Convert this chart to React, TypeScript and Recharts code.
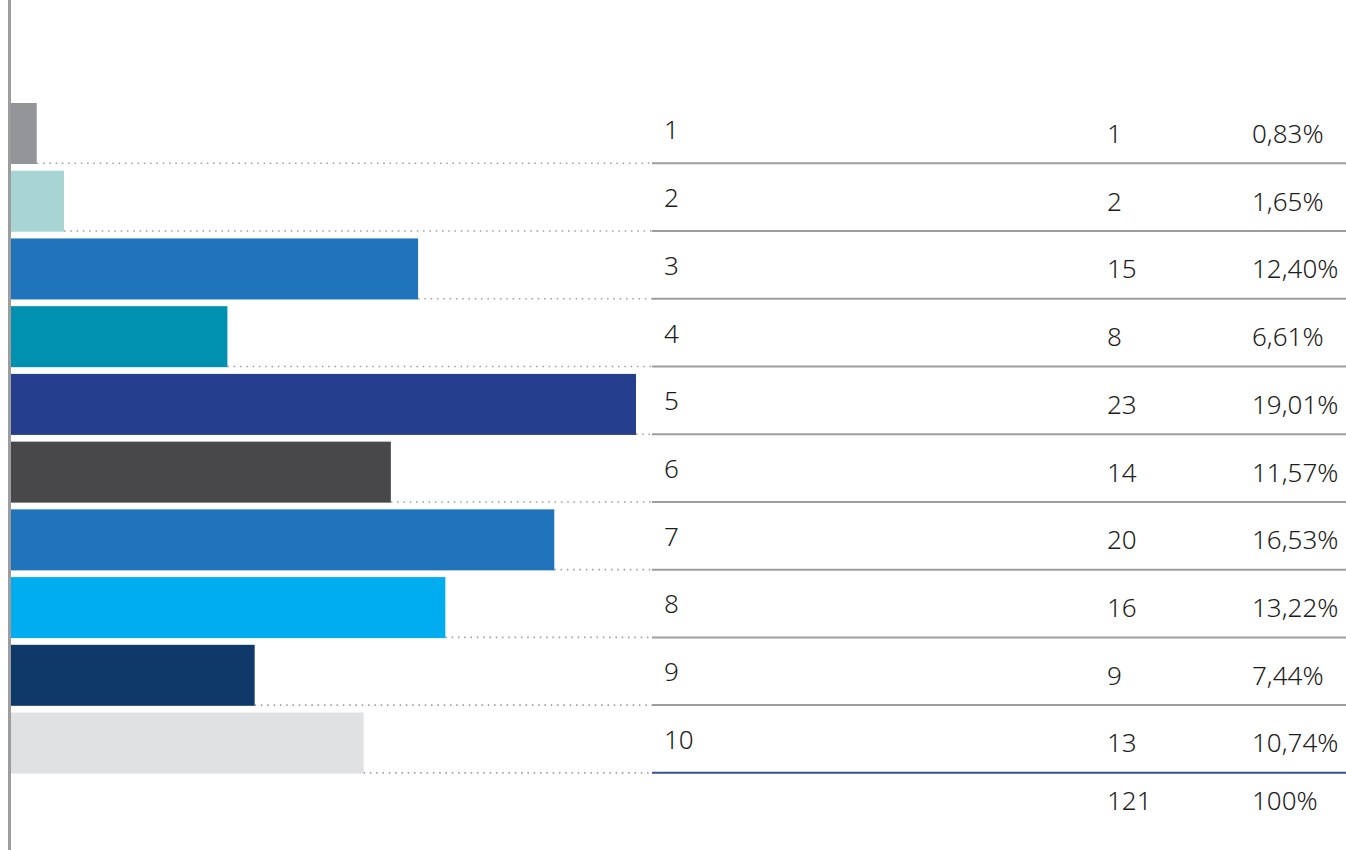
import { Bar, BarChart, XAxis, YAxis } from "recharts";

const categories = ["1", "2", "3", "4", "5", "6", "7", "8", "9", "10", ""];
const counts = [1, 2, 15, 8, 23, 14, 20, 16, 9, 13];
const percents = ["0,83%", "1,65%", "12,40%", "6,61%", "19,01%", "11,57%", "16,53%", "13,22%", "7,44%", "10,74%"];
const barColors = ["#939598", "#a8d5d3", "#1f74bb", "#0090b0", "#253f8e", "#48484a", "#1f74bb", "#00aeef", "#0e3968", "#e0e1e3"];
const totalCount = "121";
const totalPercent = "100%";

const data = categories.map((name, i) => ({
  name,
  value: i < counts.length ? counts[i] : null,
}));

const FONT = "'Noto Sans', sans-serif";
const LINE_START = 652;
const CHART_W = 1346;

function RowBar(props: any) {
  const { x, y, width, height, index } = props;
  if (index == null || index >= counts.length || height == null) return null;
  const bottom = y + height - 0.7;
  const last = index === counts.length - 1;
  return (
    <g>
      <line x1={x + width} x2={LINE_START} y1={bottom} y2={bottom} stroke="#9d9d9f" strokeWidth={1.6} strokeDasharray="1.5 4.8" />
      <rect x={x} y={y} width={width} height={height} fill={barColors[index]} />
      <line x1={LINE_START} x2={CHART_W} y1={bottom} y2={bottom} stroke={last ? "#3a4fa0" : "#9d9d9f"} strokeWidth={2} />
    </g>
  );
}

function RowTick(props: any) {
  const { y, payload } = props;
  const i = payload.index;
  const style = { fontFamily: FONT, fontSize: 26, fontWeight: 350, fill: "#1d1d1b" };
  if (i >= counts.length) {
    return (
      <g>
        <text x={1107} y={y - 0.7} style={style}>{totalCount}</text>
        <text x={1252} y={y - 0.7} style={style}>{totalPercent}</text>
      </g>
    );
  }
  return (
    <g>
      <text x={664} y={y + 5.5} style={style}>{payload.value}</text>
      <text x={1107} y={y + 9} style={style}>{counts[i]}</text>
      <text x={1252} y={y + 9} style={style}>{percents[i]}</text>
    </g>
  );
}

export default function App() {
  return (
    <div style={{ position: "absolute", left: 0, top: 0, background: "#fff" }}>
      <BarChart
        width={CHART_W}
        height={850}
        data={data}
        layout="vertical"
        margin={{ top: 0, right: 710, bottom: 0, left: 0 }}
        barSize={61}
      >
        <XAxis type="number" domain={[0, 23]} hide />
        <YAxis
          type="category"
          dataKey="name"
          width={9.5}
          padding={{ top: 100, bottom: 5 }}
          axisLine={{ stroke: "#9d9d9f", strokeWidth: 3 }}
          tickLine={false}
          interval={0}
          tick={<RowTick />}
        />
        <Bar dataKey="value" shape={<RowBar />} isAnimationActive={false} />
      </BarChart>
    </div>
  );
}
